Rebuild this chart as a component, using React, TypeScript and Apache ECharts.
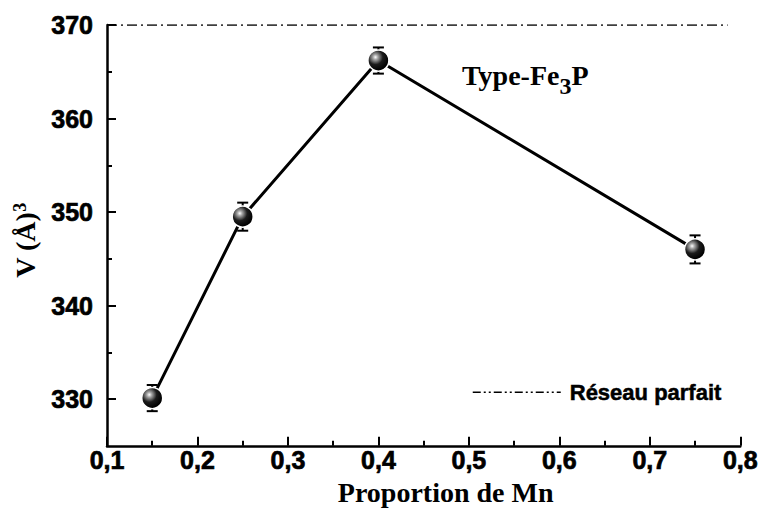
import React, { useEffect, useRef } from "react";
import * as echarts from "echarts";

// Mn proportion vs cell volume (Fe3P-type structure)
const mnProportion = [0.15, 0.25, 0.4, 0.75];
const cellVolume = [330.1, 349.5, 366.2, 346.0];
const volumeError = [1.4, 1.5, 1.4, 1.5];

// Ideal lattice reference level
const perfectLatticeVolume = 370;
const perfectLatticeSpan = [0.1, 0.786];

const xTicks = [0.1, 0.2, 0.3, 0.4, 0.5, 0.6, 0.7, 0.8];
const yMajorTicks = [330, 340, 350, 360, 370];
const yMinorTicks = [335, 345, 355, 365];

const SANS = "Liberation Sans";
const SERIF = "Liberation Serif";

export default function App() {
  const ref = useRef<HTMLDivElement>(null);

  useEffect(() => {
    document.body.style.margin = "0";
    if (!ref.current) return;
    const chart = echarts.init(ref.current, null, { renderer: "svg" });

    const sphere = new echarts.graphic.RadialGradient(0.36, 0.34, 0.64, [
      { offset: 0, color: "#ffffff" },
      { offset: 0.18, color: "#a8a8a8" },
      { offset: 0.55, color: "#1c1c1c" },
      { offset: 1, color: "#000" },
    ]);

    const tickLabel = {
      fontFamily: SANS,
      fontWeight: "bold" as const,
      fontSize: 25,
      color: "#000",
      textBorderColor: "#000",
      textBorderWidth: 0.7,
    };

    chart.setOption({
      animation: false,
      backgroundColor: "#fff",
      grid: { left: 107, right: 20, top: 25, bottom: 65 },
      legend: {
        data: ["Réseau parfait"],
        left: 467,
        top: 376,
        itemWidth: 88,
        itemHeight: 14,
        itemGap: 0,
        itemStyle: { opacity: 0, borderWidth: 0 },
        lineStyle: { type: [8, 3, 2, 3, 2, 3], width: 1.5, color: "#000" },
        textStyle: {
          fontFamily: SANS,
          fontWeight: "bold",
          fontSize: 22,
          color: "#000",
          textBorderColor: "#000",
          textBorderWidth: 0.5,
          padding: [0, 0, 0, 4],
        },
      },
      xAxis: {
        type: "value",
        min: xTicks[0],
        max: xTicks[xTicks.length - 1],
        interval: 0.1,
        name: "Proportion de Mn",
        nameLocation: "middle",
        nameGap: 29,
        nameTextStyle: {
          fontFamily: SERIF,
          fontWeight: "bold",
          fontSize: 28,
          color: "#000",
          padding: [0, 0, 0, 44],
        },
        axisLine: { show: true, lineStyle: { color: "#000", width: 2.5 } },
        axisTick: { show: true, inside: true, length: 9, lineStyle: { color: "#000", width: 2 } },
        minorTick: { show: true, splitNumber: 2, length: 5, lineStyle: { color: "#000", width: 2 } },
        splitLine: { show: false },
        axisLabel: {
          ...tickLabel,
          margin: 2,
          formatter: (v: number) => v.toFixed(1).replace(".", ","),
        },
      },
      yAxis: [
        {
          type: "value",
          min: 325,
          max: perfectLatticeVolume,
          name: "{m|V (Å)}{s|3}",
          nameLocation: "middle",
          nameRotate: 90,
          nameGap: 64,
          nameTextStyle: {
            padding: [0, 10, 0, 0],
            rich: {
              m: {
                fontFamily: SERIF,
                fontWeight: "bold",
                fontSize: 28,
                color: "#000",
                lineHeight: 32,
                verticalAlign: "top",
              },
              s: {
                fontFamily: SERIF,
                fontWeight: "bold",
                fontSize: 18,
                color: "#000",
                lineHeight: 18,
                verticalAlign: "top",
              },
            },
          },
          axisLine: { show: true, lineStyle: { color: "#000", width: 2.5 } },
          axisTick: {
            show: true,
            inside: true,
            length: 9,
            customValues: yMajorTicks,
            lineStyle: { color: "#000", width: 2 },
          },
          splitLine: { show: false },
          axisLabel: { ...tickLabel, margin: 14, customValues: yMajorTicks },
        },
        {
          type: "value",
          min: 325,
          max: perfectLatticeVolume,
          position: "left",
          axisLine: { show: false },
          axisTick: {
            show: true,
            inside: true,
            length: 5,
            customValues: yMinorTicks,
            lineStyle: { color: "#000", width: 2 },
          },
          splitLine: { show: false },
          axisLabel: { show: false },
        },
      ],
      graphic: [
        {
          type: "text",
          left: 462,
          top: 61,
          style: {
            text: "{a|Type-Fe}{b|3}{a|P}",
            rich: {
              a: {
                fontFamily: SERIF,
                fontWeight: "bold",
                fontSize: 28,
                fill: "#000",
                lineHeight: 30,
                verticalAlign: "top",
              },
              b: {
                fontFamily: SERIF,
                fontWeight: "bold",
                fontSize: 24,
                fill: "#000",
                lineHeight: 24,
                padding: [13, 0, 0, 0],
                verticalAlign: "top",
              },
            },
          },
        },
      ],
      series: [
        {
          name: "Réseau parfait",
          type: "line",
          data: perfectLatticeSpan.map((x) => [x, perfectLatticeVolume]),
          symbol: "none",
          itemStyle: { color: "#000" },
          lineStyle: { type: [10, 4, 2, 4], width: 1.5, color: "#000" },
          z: 1,
        },
        {
          name: "errors",
          type: "custom",
          data: mnProportion.map((x, i) => [x, cellVolume[i], volumeError[i]]),
          encode: { x: 0, y: 1 },
          z: 2,
          renderItem: (_params: any, api: any) => {
            const x = api.value(0);
            const y = api.value(1);
            const e = api.value(2);
            const top = api.coord([x, y + e]);
            const bot = api.coord([x, y - e]);
            const half = 5.5;
            const st = { stroke: "#000", lineWidth: 2 };
            return {
              type: "group",
              children: [
                { type: "line", shape: { x1: top[0], y1: top[1], x2: bot[0], y2: bot[1] }, style: st },
                { type: "line", shape: { x1: top[0] - half, y1: top[1], x2: top[0] + half, y2: top[1] }, style: st },
                { type: "line", shape: { x1: bot[0] - half, y1: bot[1], x2: bot[0] + half, y2: bot[1] }, style: st },
              ],
            };
          },
        },
        {
          name: "V",
          type: "line",
          data: mnProportion.map((x, i) => [x, cellVolume[i]]),
          symbol: "circle",
          symbolSize: 21,
          showSymbol: true,
          lineStyle: { color: "#000", width: 3 },
          itemStyle: { color: sphere, borderColor: "#fff", borderWidth: 1.5 },
          z: 3,
        },
      ],
    });

    return () => chart.dispose();
  }, []);

  return <div ref={ref} style={{ width: 761, height: 511 }} />;
}
